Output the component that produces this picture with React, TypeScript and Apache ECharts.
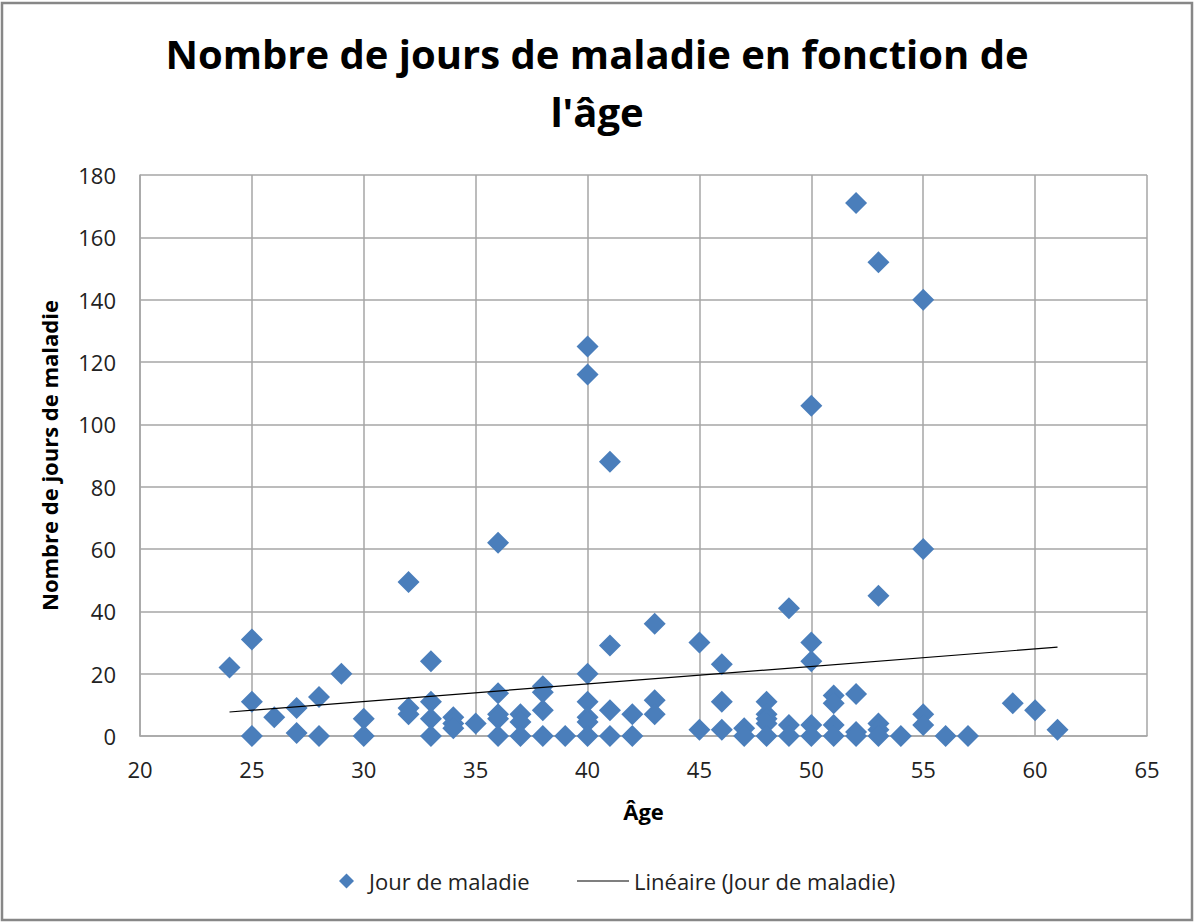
import React, { useEffect, useRef } from "react";
import * as echarts from "echarts";

const seriesName = "Jour de maladie";
const trendName = "Linéaire (Jour de maladie)";
const titleText = "Nombre de jours de maladie en fonction de\nl'âge";
const xAxisName = "Âge";
const yAxisName = "Nombre de jours de maladie";

const ages = [
  24,
  25, 25, 25,
  26,
  27, 27,
  28, 28,
  29,
  30, 30,
  32, 32, 32,
  33, 33, 33, 33,
  34, 34, 34,
  35,
  36, 36, 36, 36, 36,
  37, 37, 37,
  38, 38, 38, 38,
  39,
  40, 40, 40, 40, 40, 40, 40,
  41, 41, 41, 41,
  42, 42,
  43, 43, 43,
  45, 45,
  46, 46, 46,
  47, 47,
  48, 48, 48, 48, 48,
  49, 49, 49,
  50, 50, 50, 50, 50,
  51, 51, 51, 51,
  52, 52, 52, 52,
  53, 53, 53, 53, 53,
  54,
  55, 55, 55, 55,
  56,
  57,
  59,
  60,
  61,
];

const sickDays = [
  22,
  31, 11, 0,
  6,
  9, 1,
  12.5, 0,
  20,
  5.5, 0,
  49.4, 9, 7,
  24, 11, 5.5, 0,
  6, 4, 2.5,
  4,
  62, 13.7, 7, 5.5, 0,
  7, 4.5, 0,
  16, 14, 8.3, 0,
  0,
  125, 116, 20, 11, 6, 4.5, 0,
  88, 29, 8.3, 0,
  7, 0,
  36, 11.5, 7,
  30, 2,
  23, 11, 2,
  2.5, 0,
  11, 7, 5.5, 4, 0,
  41, 3.5, 0,
  106, 30, 24, 3.5, 0,
  13, 10.5, 3.5, 0,
  171, 13.5, 1.3, 0,
  152, 45, 4, 2, 0,
  0,
  140, 60, 7, 3.5,
  0,
  0,
  10.5,
  8.3,
  2,
];

// Trend line end points (Excel linear trendline)
const trendAges = [24, 61];
const trendDays = [7.7, 28.5];

const xTicks = { min: 20, max: 65, interval: 5 };
const yTicks = { min: 0, max: 180, interval: 20 };

const FONT = "'Open Sans', 'Noto Sans', sans-serif";
const BLUE = "#4A7EBB";
const GRID = "#A6A6A6";

export default function App() {
  const ref = useRef<HTMLDivElement>(null);

  useEffect(() => {
    if (!ref.current) return;
    const chart = echarts.init(ref.current, undefined, { renderer: "svg" });
    const scatterData = ages.map((a, i) => [a, sickDays[i]]);
    const trendData = trendAges.map((a, i) => [a, trendDays[i]]);

    chart.setOption({
      animation: false,
      backgroundColor: "#ffffff",
      textStyle: { fontFamily: FONT },
      title: {
        text: titleText,
        left: "center",
        top: 19,
        textStyle: {
          fontFamily: FONT,
          fontSize: 40,
          fontWeight: "bold",
          color: "#000000",
          lineHeight: 58,
        },
      },
      grid: { left: 140, right: 47, top: 175, bottom: 186, containLabel: false },
      xAxis: {
        type: "value",
        min: xTicks.min,
        max: xTicks.max,
        interval: xTicks.interval,
        name: xAxisName,
        nameLocation: "middle",
        nameGap: 64,
        nameTextStyle: { fontFamily: FONT, fontSize: 22, fontWeight: "bold", color: "#000" },
        axisLine: { show: true, lineStyle: { color: GRID, width: 1.5 } },
        axisTick: { show: false },
        axisLabel: { fontFamily: FONT, fontSize: 22, color: "#222", margin: 22 },
        splitLine: { show: true, lineStyle: { color: GRID, width: 1.5 } },
      },
      yAxis: {
        type: "value",
        min: yTicks.min,
        max: yTicks.max,
        interval: yTicks.interval,
        name: yAxisName,
        nameLocation: "middle",
        nameGap: 80,
        nameRotate: 90,
        nameTextStyle: { fontFamily: FONT, fontSize: 22, fontWeight: "bold", color: "#000" },
        axisLine: { show: true, lineStyle: { color: GRID, width: 1.5 } },
        axisTick: { show: false },
        axisLabel: { fontFamily: FONT, fontSize: 22, color: "#222", margin: 24 },
        splitLine: { show: true, lineStyle: { color: GRID, width: 1.5 } },
      },
      legend: [
        {
          data: [{ name: seriesName, icon: "diamond" }],
          left: 334,
          top: 865,
          itemWidth: 15,
          itemHeight: 15,
          textStyle: { fontFamily: FONT, fontSize: 22, color: "#222", padding: [0, 0, 0, 10] },
        },
        {
          data: [
            {
              name: trendName,
              icon: "path://M0,0 L52,0 L52,1 L0,1 Z",
            },
          ],
          left: 572,
          top: 865,
          itemWidth: 52,
          itemHeight: 1.5,
          itemStyle: { color: "#000" },
          textStyle: { fontFamily: FONT, fontSize: 22, color: "#222" },
        },
      ],
      graphic: [
        {
          type: "rect",
          shape: { x: 2, y: 3, width: 1190, height: 917 },
          style: { fill: "none", stroke: "#878787", lineWidth: 2.5 },
          silent: true,
        },
      ],
      series: [
        {
          name: seriesName,
          type: "scatter",
          data: scatterData,
          symbol: "diamond",
          symbolSize: 22,
          itemStyle: { color: BLUE, opacity: 1 },
          z: 3,
        },
        {
          name: trendName,
          type: "line",
          data: trendData,
          showSymbol: false,
          symbol: "none",
          lineStyle: { color: "#000000", width: 1.2 },
          itemStyle: { color: "#000000" },
          z: 4,
        },
      ],
    });

    return () => chart.dispose();
  }, []);

  return (
    <div
      ref={ref}
      style={{ position: "absolute", left: 0, top: 0, width: 1194, height: 922, background: "#fff" }}
    />
  );
}
